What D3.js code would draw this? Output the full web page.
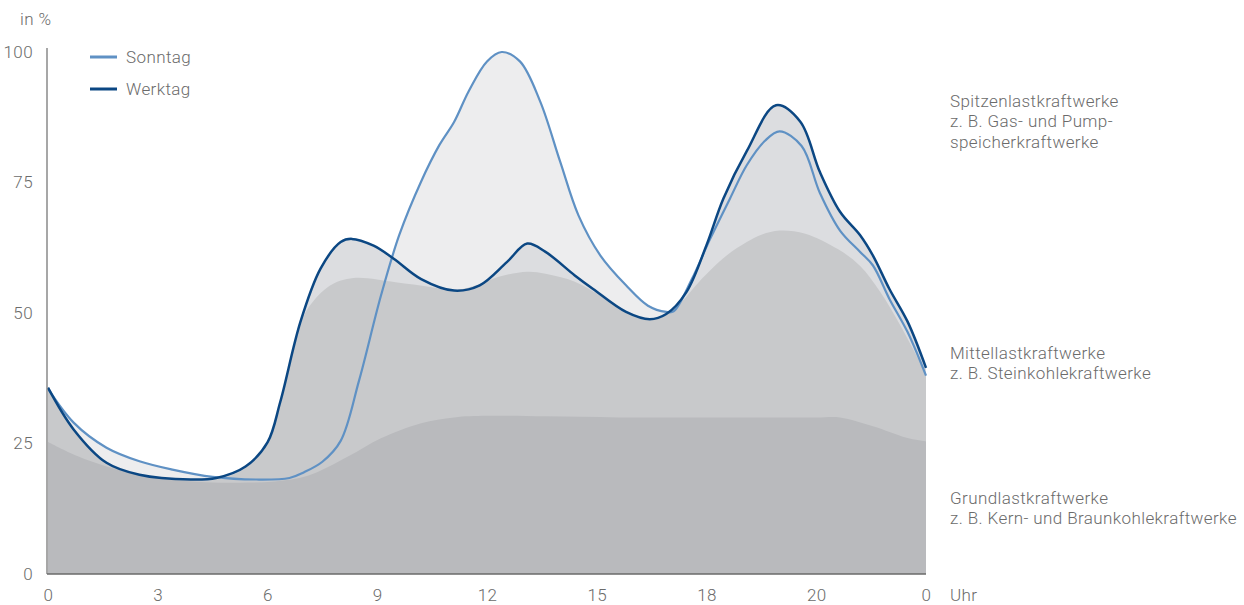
<!DOCTYPE html>
<html>
<head>
<meta charset="utf-8">
<script src="https://cdn.jsdelivr.net/npm/d3@7"></script>
<style>
  html, body { margin: 0; padding: 0; background: #fff; }
  svg { display: block; }
  text { font-family: Roboto, "Open Sans", sans-serif; font-weight: 300; fill: #6b6b6b; font-size: 17px; letter-spacing: 0.4px; }
</style>
</head>
<body>
<svg id="chart" width="1244" height="605"></svg>
<script>
// Load profile over one day (hour of day, share of peak load in %)
const sundayHours  = [0, 0.7, 1.6, 2.5, 3.4, 4.5, 5.7, 6.6, 7.0, 7.5, 8.0, 8.5, 9.1, 9.6, 10.2, 10.7, 11.1, 11.5, 12.0, 12.4, 12.9, 13.45, 14.0, 14.5, 15.1, 15.8, 16.4, 16.9, 17.1, 17.6, 18.1, 18.64, 19.1, 19.6, 20.0, 20.6, 21.1, 21.65, 22.2, 22.55, 23.0, 23.5, 24];
const sundayValues = [35.5, 29, 24.2, 21.6, 20, 18.6, 18.1, 18.4, 19.5, 21.5, 25.5, 37, 53.3, 64.9, 75.2, 82.2, 86.6, 92.5, 98.2, 100, 98.2, 90.6, 79, 68.7, 61, 55.3, 51.4, 50.2, 50.3, 56.5, 64.2, 71.9, 78.3, 83, 84.8, 82, 73, 65.8, 61.7, 59.1, 52.7, 46.3, 38];

const workdayHours  = [0, 0.7, 1.6, 2.5, 3.9, 4.6, 5.4, 6.0, 6.35, 6.9, 7.45, 8.0, 8.3, 8.9, 9.45, 10.2, 11.1, 11.8, 12.55, 13.1, 13.6, 14.4, 14.9, 15.8, 16.45, 16.9, 17.45, 18.0, 18.46, 19.1, 19.9, 20.56, 21.1, 21.65, 22.2, 22.55, 23.0, 23.5, 24];
const workdayValues = [35.7, 27.7, 21.3, 19, 18.1, 18.4, 20.6, 25.2, 33, 48.3, 58.5, 63.6, 64.2, 62.9, 60.4, 56.5, 54.3, 55.3, 59.8, 63.3, 61.7, 57.2, 54.6, 50.2, 48.8, 49.8, 54, 63, 71.9, 81, 89.8, 86.7, 77, 69.4, 64.9, 61, 54.6, 48.3, 39.5];

// Medium load band (Mittellast) upper edge
const midHours  = [0, 0.7, 1.6, 2.5, 3.9, 4.6, 5.4, 6.0, 6.35, 6.9, 7.1, 7.7, 8.35, 9.5, 10.45, 11.1, 11.8, 12.3, 13.1, 13.6, 14.4, 15.1, 15.8, 16.45, 16.9, 17.3, 17.8, 18.55, 19.1, 19.5, 20.0, 20.7, 21.6, 22.2, 22.75, 23.3, 24];
const midValues = [35.5, 27.5, 21.2, 18.9, 18, 18.1, 20.3, 24.8, 32.5, 47.5, 50.8, 55.2, 56.7, 55.9, 55, 54.4, 55.5, 56.9, 57.9, 57.5, 56, 53.3, 50, 48.6, 49.6, 52, 56, 61, 63.6, 65, 65.8, 65.2, 62.2, 59, 54, 47.6, 38.3];

// Base load band (Grundlast) upper edge
const baseHours  = [0, 0.8, 1.6, 2.5, 3.4, 4.3, 5.25, 6.2, 7.1, 8.2, 9.1, 10.2, 11.1, 12.0, 13.6, 15.6, 18.0, 21.0, 21.65, 22.55, 23.47, 24];
const baseValues = [25.3, 22.6, 20.6, 19, 18, 17.6, 17.5, 17.7, 18.8, 22.5, 26, 28.9, 30, 30.3, 30.2, 30, 30, 30, 30, 28.3, 26.1, 25.4];

const xTickHours  = [0, 3, 6, 9, 12, 15, 18, 21, 24];
const xTickLabels = ["0", "3", "6", "9", "12", "15", "18", "20", "0"];
const yTicks = [0, 25, 50, 75, 100];

const seriesNames = ["Sonntag", "Werktag"];
const bandLabels = [
  ["Spitzenlastkraftwerke", "z. B. Gas- und Pump-", "speicherkraftwerke"],
  ["Mittellastkraftwerke", "z. B. Steinkohlekraftwerke"],
  ["Grundlastkraftwerke", "z. B. Kern- und Braunkohlekraftwerke"]
];

const zip = (hs, vs) => hs.map((h, i) => ({ h, v: vs[i] }));
const sunday = zip(sundayHours, sundayValues);
const workday = zip(workdayHours, workdayValues);
const mid = zip(midHours, midValues);
const base = zip(baseHours, baseValues);

const svg = d3.select("#chart");
const x = d3.scaleLinear().domain([0, 24]).range([48, 926]);
const y = d3.scaleLinear().domain([0, 100]).range([574, 52]);

const curve = d3.curveCatmullRom.alpha(0.5);
const area = d3.area().x(d => x(d.h)).y0(y(0)).y1(d => y(d.v)).curve(curve);
const line = d3.line().x(d => x(d.h)).y(d => y(d.v)).curve(curve);

// Stacked fills, lightest (peak load) at the back
svg.append("path").attr("d", area(sunday)).attr("fill", "#ededee");
svg.append("path").attr("d", area(workday)).attr("fill", "#dcdde0");
svg.append("path").attr("d", area(mid)).attr("fill", "#c8c9cb");
svg.append("path").attr("d", area(base)).attr("fill", "#b9babd");

// Load curves
const colors = { Sonntag: "#5f91c4", Werktag: "#0b4783" };
svg.append("path").attr("d", line(sunday)).attr("fill", "none")
  .attr("stroke", colors.Sonntag).attr("stroke-width", 2.2);
svg.append("path").attr("d", line(workday)).attr("fill", "none")
  .attr("stroke", colors.Werktag).attr("stroke-width", 2.5);

// Axes
const tickStyle = sel => sel.selectAll("text")
  .style("font-size", "17px").style("font-family", "Roboto, 'Open Sans', sans-serif")
  .style("font-weight", 300).style("letter-spacing", "0.4px").attr("fill", "#6b6b6b");

const yAxis = d3.axisLeft(y).tickValues(yTicks).tickSize(0).tickPadding(14).tickFormat(d3.format("d"));
const gy = svg.append("g").attr("transform", "translate(47,0)").call(yAxis);
gy.select(".domain").attr("stroke", "#8a8a8a").attr("stroke-width", 1.5).attr("d", `M0,${y(0)}V48`);
tickStyle(gy);

const xAxis = d3.axisBottom(x).tickValues(xTickHours).tickSize(0).tickPadding(15)
  .tickFormat((d, i) => xTickLabels[i]);
const gx = svg.append("g").attr("transform", `translate(0,${y(0)})`).call(xAxis);
gx.select(".domain").attr("stroke", "#6a6a6a").attr("stroke-width", 1.5).attr("d", `M47,0H926`);
tickStyle(gx);
gx.selectAll("text").attr("dy", "0.7em");

svg.append("text").attr("x", 950).attr("y", 601).text("Uhr");
svg.append("text").attr("x", 20).attr("y", 25).text("in %");

// Legend
const legend = svg.append("g");
seriesNames.forEach((name, i) => {
  const ly = 57 + i * 32;
  legend.append("line").attr("x1", 90).attr("x2", 117).attr("y1", ly).attr("y2", ly)
    .attr("stroke", colors[name]).attr("stroke-width", 3);
  legend.append("text").attr("x", 126).attr("y", ly + 6).text(name);
});

// Band labels on the right, one text per line
const labelTops = [101, 353, 498];
bandLabels.forEach((lines, i) => {
  lines.forEach((l, j) => svg.append("text")
    .attr("x", 950).attr("y", labelTops[i] + 6 + j * 20.3).text(l));
});
</script>
</body>
</html>
